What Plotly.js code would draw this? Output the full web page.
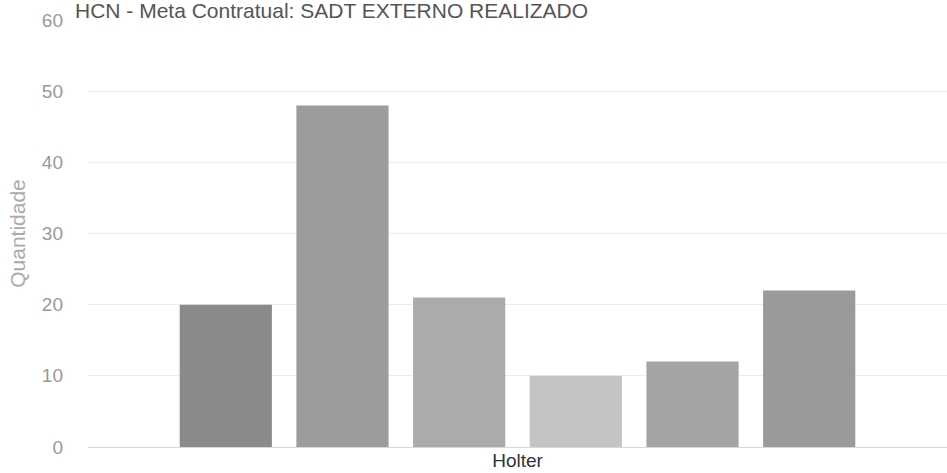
<!DOCTYPE html>
<html>
<head>
<meta charset="utf-8">
<script src="https://cdn.plot.ly/plotly-3.0.1.min.js"></script>
<style>html,body{margin:0;padding:0;background:#fff;}#chart{width:947px;height:473px;}</style>
</head>
<body>
<div id="chart"></div>
<script>
const categories = ["Holter"];
const seriesNames = ["Série 1", "Série 2", "Série 3", "Série 4", "Série 5", "Série 6"];
const seriesValues = [20, 48, 21, 10, 12, 22];
const seriesColors = ["#8a8a8a", "#9c9c9c", "#ababab", "#c4c4c4", "#a4a4a4", "#9a9a9a"];
const yTicks = [0, 10, 20, 30, 40, 50, 60];

const traces = seriesNames.map((name, i) => ({
  type: "bar",
  name: name,
  x: categories,
  y: [seriesValues[i]],
  marker: { color: seriesColors[i] },
  hoverinfo: "none"
}));

const layout = {
  width: 947,
  height: 473,
  margin: { l: 88, r: 0, t: 20, b: 26 },
  paper_bgcolor: "#ffffff",
  plot_bgcolor: "#ffffff",
  font: { family: "Liberation Sans, Arial, sans-serif", color: "#444" },
  title: {
    text: "HCN - Meta Contratual: SADT EXTERNO REALIZADO",
    font: { size: 21, color: "#555" },
    xref: "container", x: 75 / 947, xanchor: "left",
    yref: "container", y: 1 - 3 / 473, yanchor: "top",
    pad: { t: 0, b: 0, l: 0, r: 0 }
  },
  showlegend: false,
  barmode: "group",
  bargap: 0.185,
  bargroupgap: 0.21,
  xaxis: {
    type: "category",
    showgrid: false,
    zeroline: false,
    showline: false,
    ticks: "",
    tickfont: { size: 19, color: "#333" }
  },
  yaxis: {
    range: [0, 60],
    tickvals: yTicks,
    ticktext: yTicks.map(String),
    showgrid: true,
    gridcolor: "#ececec",
    zeroline: true,
    zerolinecolor: "#d8d8d8",
    tickfont: { size: 19, color: "#999" },
    ticklabelstandoff: 24,
    title: { text: "Quantidade", font: { size: 21, color: "#aaa" }, standoff: 10 }
  }
};

Plotly.newPlot("chart", traces, layout, { displayModeBar: false, staticPlot: true });
</script>
</body>
</html>
